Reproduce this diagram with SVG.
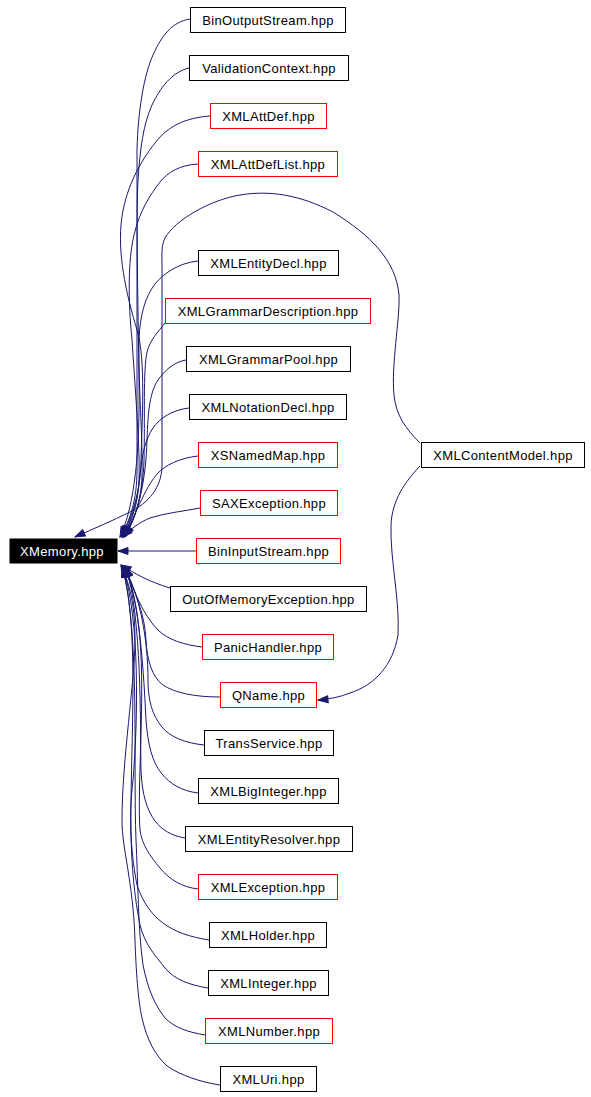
<svg xmlns="http://www.w3.org/2000/svg" width="591" height="1097" viewBox="0 0 591 1097">
<style>
.n rect{fill:#fff;stroke:#000;stroke-width:1}
.n.r rect{stroke:#f00}
.n text{font-family:"Liberation Sans",Arial,sans-serif;font-size:13px;letter-spacing:0.35px;text-anchor:middle;fill:#000}
#XMemory rect{fill:#000;stroke:#000}
#XMemory text{fill:#fff}
.e path{fill:none;stroke:#191970;stroke-width:1;marker-end:url(#a)}
</style>
<defs>
<marker id="a" markerUnits="userSpaceOnUse" markerWidth="12" markerHeight="9" refX="10" refY="4.5" orient="auto" overflow="visible">
<path d="M0,1 L10,4.5 L0,8 Z" fill="#191970" stroke="#191970" stroke-width="1"/>
</marker>
</defs>
<rect width="591" height="1097" fill="#fff"/>
<g class="e" id="edges">
<path d="M190,19 C172,22 162,35 153,55 C144,75 138,110 137,150 L137,470 C137,500 130,520 121,536"/>
<path d="M189,68 C172,72 160,88 152,105 C143,125 140,150 138,180 C136,220 138,300 139,380 C140,450 135,505 120,537"/>
<path d="M210,116 C185,118 168,126 155,143 C140,162 124,190 121,225 C118,260 128,300 137,330 C146,360 142,420 141,460 C140,495 132,515 122,536"/>
<path d="M198,164 C180,165 168,172 160,182 C150,195 140,210 134,235 C128,260 128,300 132,340 C136,400 140,450 139,480 C138,505 132,520 123,536"/>
<path d="M420,443 C405,428 396,415 394,395 C391,365 400,320 399,295 C396,260 370,235 333,212 C300,195 270,190 240,195 C210,200 175,220 165,238 C161,246 162,255 162,265 L162,465 C162,488 148,503 130,512 C112,521 95,528 75,537"/>
<path d="M198,261 C178,263 163,274 155,284 C145,297 140,315 139,340 C138,380 143,440 142,475 C141,505 133,522 123,537"/>
<path d="M165,323 C158,332 150,340 147,352 C143,370 145,420 144,460 C143,495 135,520 124,537"/>
<path d="M186,360 C174,362 165,370 158,380 C150,392 148,410 147,440 C146,480 138,515 125,537"/>
<path d="M189,408 C172,410 160,418 153,428 C145,440 142,455 140,475 C138,500 132,520 122,537"/>
<path d="M198,456 C180,458 165,465 157,474 C148,485 143,497 138,507 C134,516 130,525 124,536"/>
<path d="M200,508 C185,511 165,513 150,518 C140,522 132,528 122,537"/>
<path d="M196,551 L118,551"/>
<path d="M170,588 C160,585 150,581 142,577 C134,573 128,569 121,565"/>
<path d="M202,647 C185,645 168,640 158,630 C148,620 140,605 134,590 C130,580 126,573 122,566"/>
<path d="M220,697 C195,697 175,693 163,685 C152,677 147,660 146,640 C145,615 135,590 123,566"/>
<path d="M204,745 C185,743 170,737 162,727 C152,715 148,700 148,680 C148,640 140,595 124,567"/>
<path d="M198,793 C182,791 170,784 162,774 C152,762 148,745 146,720 C144,680 140,600 125,567"/>
<path d="M185,838 C172,836 162,830 155,821 C147,810 142,795 141,770 C140,720 142,620 126,567"/>
<path d="M198,889 C182,887 170,880 160,868 C150,856 142,845 140,830 C137,790 145,700 140,640 C137,600 130,580 124,567"/>
<path d="M209,940 C190,937 175,932 163,923 C152,915 143,903 137,885 C132,860 128,820 133,780 C138,720 140,620 123,567"/>
<path d="M208,988 C190,985 175,980 165,968 C155,955 145,945 140,925 C133,890 130,850 131,800 C132,720 138,620 122,567"/>
<path d="M205,1035 C188,1032 175,1028 165,1018 C155,1005 148,990 143,965 C138,930 138,880 136,840 C133,760 140,640 123,567"/>
<path d="M220,1085 C200,1082 180,1075 167,1066 C155,1055 147,1040 142,1018 C138,1000 136,970 135,940 C133,880 122,850 122,820 C122,760 135,680 135,640 C135,600 128,580 121,566"/>
<path d="M420,466 C405,482 392,500 391,525 C390,560 400,600 398,635 C393,665 375,685 350,693 C340,697 330,699 318,700"/>
</g>
<g class="n" id="XMemory"><rect x="10" y="539" width="107" height="24"/><text x="62" y="556">XMemory.hpp</text></g>
<g class="n" id="BinOutputStream"><rect x="190.5" y="7.5" width="155" height="25"/><text x="268" y="25">BinOutputStream.hpp</text></g>
<g class="n" id="ValidationContext"><rect x="189.5" y="55.5" width="159" height="25"/><text x="269" y="73">ValidationContext.hpp</text></g>
<g class="n r" id="XMLAttDef"><rect x="210.5" y="103.5" width="116" height="25"/><text x="268.5" y="121">XMLAttDef.hpp</text></g>
<g class="n r" id="XMLAttDefList"><rect x="198.5" y="151.5" width="139" height="25"/><text x="268" y="169">XMLAttDefList.hpp</text></g>
<g class="n" id="XMLEntityDecl"><rect x="198.5" y="250.5" width="140" height="25"/><text x="268.5" y="268">XMLEntityDecl.hpp</text></g>
<g class="n r" id="XMLGrammarDescription"><rect x="165.5" y="298.5" width="205" height="25"/><text x="268" y="316">XMLGrammarDescription.hpp</text></g>
<g class="n" id="XMLGrammarPool"><rect x="186.5" y="346.5" width="164" height="25"/><text x="268.5" y="364">XMLGrammarPool.hpp</text></g>
<g class="n" id="XMLNotationDecl"><rect x="189.5" y="394.5" width="157" height="25"/><text x="268" y="412">XMLNotationDecl.hpp</text></g>
<g class="n r" id="XSNamedMap"><rect x="198.5" y="442.5" width="139" height="25"/><text x="268" y="460">XSNamedMap.hpp</text></g>
<g class="n r" id="SAXException"><rect x="200.5" y="490.5" width="137" height="25"/><text x="269" y="508">SAXException.hpp</text></g>
<g class="n r" id="BinInputStream"><rect x="196.5" y="538.5" width="144" height="25"/><text x="268.5" y="556">BinInputStream.hpp</text></g>
<g class="n" id="OutOfMemoryException"><rect x="170.5" y="586.5" width="196" height="25"/><text x="268.5" y="604">OutOfMemoryException.hpp</text></g>
<g class="n r" id="PanicHandler"><rect x="202.5" y="634.5" width="131" height="25"/><text x="268" y="652">PanicHandler.hpp</text></g>
<g class="n r" id="QName"><rect x="220.5" y="682.5" width="96" height="25"/><text x="268.5" y="700">QName.hpp</text></g>
<g class="n" id="TransService"><rect x="204.5" y="730.5" width="129" height="25"/><text x="269" y="748">TransService.hpp</text></g>
<g class="n" id="XMLBigInteger"><rect x="198.5" y="778.5" width="140" height="25"/><text x="268.5" y="796">XMLBigInteger.hpp</text></g>
<g class="n" id="XMLEntityResolver"><rect x="185.5" y="826.5" width="167" height="25"/><text x="269" y="844">XMLEntityResolver.hpp</text></g>
<g class="n r" id="XMLException"><rect x="198.5" y="874.5" width="139" height="25"/><text x="268" y="892">XMLException.hpp</text></g>
<g class="n" id="XMLHolder"><rect x="209.5" y="922.5" width="117" height="25"/><text x="268" y="940">XMLHolder.hpp</text></g>
<g class="n" id="XMLInteger"><rect x="208.5" y="970.5" width="120" height="25"/><text x="268.5" y="988">XMLInteger.hpp</text></g>
<g class="n r" id="XMLNumber"><rect x="205.5" y="1018.5" width="127" height="25"/><text x="269" y="1036">XMLNumber.hpp</text></g>
<g class="n" id="XMLUri"><rect x="220.5" y="1066.5" width="96" height="25"/><text x="268.5" y="1084">XMLUri.hpp</text></g>
<g class="n" id="XMLContentModel"><rect x="421.5" y="442.5" width="163" height="25"/><text x="503" y="460">XMLContentModel.hpp</text></g>
</svg>
